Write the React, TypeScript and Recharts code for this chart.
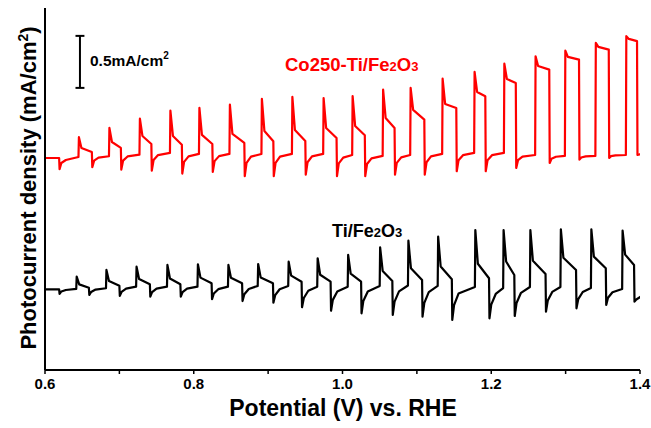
import React from 'react';
import { LineChart, Line, XAxis, YAxis, ReferenceLine } from 'recharts';

// ---------- Data (potential in V vs. RHE, current density in mA/cm², curves offset for display) ----------
const xTicks = [0.6, 0.7, 0.8, 0.9, 1.0, 1.1, 1.2, 1.3, 1.4];

// Co250-Ti/Fe2O3 (red) — chopped-light transients
const redStart = { level: 2.038, off: 0.619, trough: 1.93, rec1: 1.99, rec2: 2.019 };
const redOn = [0.645, 0.686, 0.727, 0.768, 0.807, 0.848, 0.891, 0.932, 0.974, 1.013, 1.054, 1.091, 1.134, 1.177, 1.217, 1.259, 1.299, 1.340, 1.381];
const redOff = [0.663, 0.702, 0.743, 0.784, 0.825, 0.868, 0.907, 0.950, 0.992, 1.030, 1.070, 1.110, 1.153, 1.192, 1.233, 1.278, 1.318, 1.358, 1.396];
const redDark = [2.048, 2.055, 2.070, 2.087, 2.077, 2.077, 2.077, 2.077, 2.077, 2.067, 2.058, 2.067, 2.077, 2.087, 2.087, 2.067, 2.058, 2.058, 2.067];
const redPeak = [2.238, 2.327, 2.416, 2.493, 2.519, 2.551, 2.606, 2.625, 2.615, 2.632, 2.695, 2.712, 2.801, 2.865, 2.945, 3.016, 3.070, 3.144, 3.209];
const redShoulder = [2.135, 2.192, 2.250, 2.250, 2.260, 2.269, 2.298, 2.308, 2.327, 2.346, 2.423, 2.500, 2.558, 2.673, 2.798, 2.923, 3.010, 3.106, 3.183];
const redPlateau = [2.096, 2.135, 2.173, 2.166, 2.173, 2.183, 2.199, 2.202, 2.231, 2.257, 2.327, 2.407, 2.519, 2.632, 2.760, 2.888, 2.984, 3.080, 3.161];
const redTrough = [1.949, 1.926, 1.916, 1.888, 1.904, 1.863, 1.863, 1.878, 1.863, 1.863, 1.878, 1.878, 1.911, 1.911, 1.942, 1.990, 2.022, 2.038, 2.067];
const redRec1 = [2.013, 2.013, 2.018, 2.001, 2.008, 1.991, 1.991, 1.997, 1.986, 1.980, 1.991, 1.997, 2.016, 2.016, 2.017, 2.031, 2.043, 2.056, 2.072];
const redRec2 = [2.042, 2.053, 2.066, 2.054, 2.056, 2.051, 2.051, 2.053, 2.042, 2.035, 2.044, 2.053, 2.065, 2.065, 2.052, 2.050, 2.054, 2.063, 2.077];

// Ti/Fe2O3 (black)
const blackStart = { level: 0.776, off: 0.619, trough: 0.731, rec1: 0.755, rec2: 0.769 };
const blackOn = [0.642, 0.682, 0.7225, 0.764, 0.805, 0.846, 0.886, 0.927, 0.966, 1.007, 1.050, 1.088, 1.128, 1.178, 1.216, 1.252, 1.293, 1.334, 1.376];
const blackOff = [0.659, 0.700, 0.741, 0.782, 0.824, 0.865, 0.9065, 0.945, 0.984, 1.025, 1.067, 1.107, 1.147, 1.197, 1.231, 1.273, 1.314, 1.354, 1.392];
const blackDark = [0.779, 0.786, 0.801, 0.801, 0.801, 0.801, 0.808, 0.808, 0.801, 0.801, 0.808, 0.812, 0.808, 0.798, 0.788, 0.798, 0.798, 0.788, 0.779];
const blackPeak = [0.897, 0.962, 0.993, 1.010, 1.016, 1.010, 1.019, 1.041, 1.074, 1.106, 1.180, 1.243, 1.282, 1.346, 1.346, 1.346, 1.353, 1.353, 1.341];
const blackShoulder = [0.823, 0.856, 0.875, 0.880, 0.888, 0.887, 0.889, 0.907, 0.916, 0.926, 0.952, 0.979, 0.995, 1.021, 1.043, 1.050, 1.079, 1.090, 1.109];
const blackPlateau = [0.791, 0.811, 0.824, 0.824, 0.834, 0.834, 0.834, 0.849, 0.849, 0.849, 0.856, 0.865, 0.872, 0.882, 0.913, 0.923, 0.962, 0.978, 1.010];
const blackTrough = [0.721, 0.712, 0.705, 0.705, 0.680, 0.663, 0.647, 0.603, 0.570, 0.545, 0.529, 0.513, 0.481, 0.497, 0.519, 0.561, 0.593, 0.625, 0.657];
const blackRec1 = [0.750, 0.752, 0.748, 0.748, 0.735, 0.728, 0.719, 0.692, 0.674, 0.663, 0.657, 0.645, 0.623, 0.628, 0.644, 0.667, 0.681, 0.694, 0.678];
const blackRec2 = [0.773, 0.783, 0.782, 0.782, 0.777, 0.779, 0.776, 0.762, 0.755, 0.755, 0.756, 0.749, 0.735, 0.731, 0.742, 0.751, 0.750, 0.748, 0.705];

// Scale bar (0.5 mA/cm²)
const scaleBar = { x: 0.647, bottom: 2.712, length: 0.5, cap: 0.006 };

// ---------- Build point tables from the arrays ----------
type Pt = { v: number; j: number };
type Start = { level: number; off: number; trough: number; rec1: number; rec2: number };

function buildSeries(
  start: Start, on: number[], off: number[], dark: number[], peak: number[], shoulder: number[],
  plateau: number[], trough: number[], rec1: number[], rec2: number[]
): Pt[] {
  const pts: Pt[] = [];
  pts.push({ v: 0.6, j: start.level });
  pts.push({ v: start.off, j: start.level });
  pts.push({ v: start.off + 0.0006, j: start.trough });
  pts.push({ v: start.off + 0.003, j: start.rec1 });
  pts.push({ v: start.off + 0.009, j: start.rec2 });
  for (let i = 0; i < on.length; i++) {
    pts.push({ v: on[i], j: dark[i] });
    pts.push({ v: on[i] + 0.0006, j: peak[i] });
    pts.push({ v: on[i] + 0.004, j: shoulder[i] });
    pts.push({ v: off[i], j: plateau[i] });
    pts.push({ v: off[i] + 0.0006, j: trough[i] });
    pts.push({ v: off[i] + 0.003, j: rec1[i] });
    pts.push({ v: off[i] + 0.009, j: rec2[i] });
  }
  return pts;
}

const redData = buildSeries(redStart, redOn, redOff, redDark, redPeak, redShoulder, redPlateau, redTrough, redRec1, redRec2);
const blackData = buildSeries(blackStart, blackOn, blackOff, blackDark, blackPeak, blackShoulder, blackPlateau, blackTrough, blackRec1, blackRec2);

const FONT = "'Liberation Sans', Arial, Helvetica, sans-serif";
const RED = '#ff0000';

export default function App() {
  const fmt = (v: number) => (Math.round(v * 10) % 2 === 0 ? v.toFixed(1) : '');
  return (
    <div style={{ position: 'absolute', left: 0, top: 0, width: 651, height: 428, background: '#fff', fontFamily: FONT }}>
      <LineChart width={651} height={428} margin={{ top: 8, right: 11, left: 0, bottom: 0 }}>
        <XAxis
          dataKey="v"
          type="number"
          domain={[0.6, 1.4]}
          allowDataOverflow
          ticks={xTicks}
          tickFormatter={fmt}
          height={58}
          axisLine={{ stroke: '#000', strokeWidth: 2 }}
          tickLine={{ stroke: '#000', strokeWidth: 1.5 }}
          tickSize={4}
          tickMargin={4}
          tick={{ fill: '#000', fontSize: 15, fontWeight: 'bold', fontFamily: FONT }}
          interval={0}
        />
        <XAxis xAxisId="top" orientation="top" type="number" domain={[0.6, 1.4]} height={0} tick={false} tickLine={false} axisLine={{ stroke: '#000', strokeWidth: 2 }} />
        <YAxis type="number" domain={[0, 3.48]} allowDataOverflow width={45} tick={false} tickLine={false} axisLine={{ stroke: '#000', strokeWidth: 2 }} />
        <YAxis yAxisId="right" orientation="right" type="number" domain={[0, 3.48]} width={0} tick={false} tickLine={false} axisLine={{ stroke: '#000', strokeWidth: 2 }} />
        <Line data={redData} dataKey="j" type="linear" stroke={RED} strokeWidth={2.2} dot={false} isAnimationActive={false} strokeLinejoin="round" />
        <Line data={blackData} dataKey="j" type="linear" stroke="#000" strokeWidth={2.2} dot={false} isAnimationActive={false} strokeLinejoin="round" />
        <ReferenceLine segment={[{ x: scaleBar.x, y: scaleBar.bottom }, { x: scaleBar.x, y: scaleBar.bottom + scaleBar.length }]} stroke="#000" strokeWidth={2} />
        <ReferenceLine segment={[{ x: scaleBar.x - scaleBar.cap, y: scaleBar.bottom }, { x: scaleBar.x + scaleBar.cap, y: scaleBar.bottom }]} stroke="#000" strokeWidth={2} />
        <ReferenceLine segment={[{ x: scaleBar.x - scaleBar.cap, y: scaleBar.bottom + scaleBar.length }, { x: scaleBar.x + scaleBar.cap, y: scaleBar.bottom + scaleBar.length }]} stroke="#000" strokeWidth={2} />
      </LineChart>
      <svg width={651} height={428} style={{ position: 'absolute', left: 0, top: 0, pointerEvents: 'none' }} fontFamily={FONT} fontWeight="bold">
        <text x={90} y={66} fontSize={15.5} fill="#000">
          0.5mA/cm<tspan fontSize={10} dy={-7}>2</tspan>
        </text>
        <text x={285} y={71} fontSize={18.5} fill={RED}>
          Co250-Ti/Fe<tspan fontSize={13}>2</tspan>O<tspan fontSize={13}>3</tspan>
        </text>
        <text x={332} y={237} fontSize={18} fill="#000">
          Ti/Fe<tspan fontSize={13}>2</tspan>O<tspan fontSize={13}>3</tspan>
        </text>
        <text x={343} y={416} fontSize={23} fill="#000" textAnchor="middle">Potential (V) vs. RHE</text>
        <text transform="translate(36,188) rotate(-90)" fontSize={22} fill="#000" textAnchor="middle">
          Photocurrent density (mA/cm<tspan fontSize={14} dy={-8}>2</tspan><tspan dy={8}>)</tspan>
        </text>
      </svg>
    </div>
  );
}
